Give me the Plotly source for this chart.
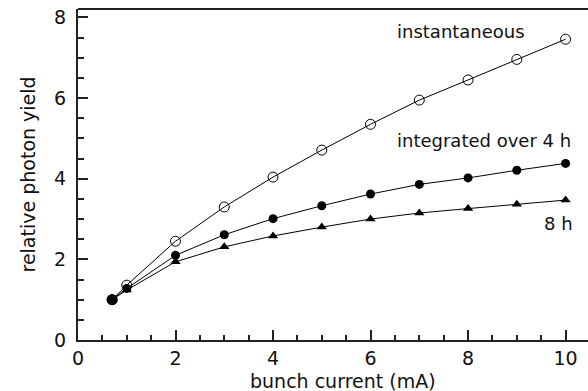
import plotly.graph_objects as go

current = [0.7, 1, 2, 3, 4, 5, 6, 7, 8, 9, 10]
instantaneous = [1.0, 1.36, 2.45, 3.30, 4.04, 4.71, 5.35, 5.95, 6.45, 6.96, 7.46]
integrated_4h = [1.0, 1.28, 2.10, 2.61, 3.01, 3.33, 3.62, 3.86, 4.02, 4.21, 4.38]
integrated_8h = [1.0, 1.24, 1.94, 2.31, 2.58, 2.80, 3.00, 3.15, 3.26, 3.37, 3.47]

x_ticks = [0, 2, 4, 6, 8, 10]
y_ticks = [0, 2, 4, 6, 8]

FONT = "DejaVu Sans"
INK = "#111"

fig = go.Figure()
fig.add_trace(go.Scatter(x=current, y=instantaneous, mode="lines+markers",
                         line=dict(color="black", width=1),
                         marker=dict(symbol="circle-open", size=10, color="black", line=dict(width=1))))
fig.add_trace(go.Scatter(x=current, y=integrated_4h, mode="lines+markers",
                         line=dict(color="black", width=1),
                         marker=dict(symbol="circle", size=9, color="black")))
fig.add_trace(go.Scatter(x=current, y=integrated_8h, mode="lines+markers",
                         line=dict(color="black", width=1),
                         marker=dict(symbol="triangle-up", size=9, color="black")))
# overlapped first point drawn as a larger filled dot
fig.add_trace(go.Scatter(x=current[:1], y=integrated_4h[:1], mode="markers",
                         marker=dict(symbol="circle", size=11, color="black")))

fig.add_annotation(x=6.5, y=7.64, text="instantaneous", showarrow=False, xanchor="left",
                   font=dict(family=FONT, size=18, color=INK))
fig.add_annotation(x=6.5, y=4.96, text="integrated over 4 h", showarrow=False, xanchor="left",
                   font=dict(family=FONT, size=18, color=INK))
fig.add_annotation(x=10.2, y=2.88, text="8 h", showarrow=False, xanchor="right",
                   font=dict(family=FONT, size=18, color=INK))

# axis titles
fig.add_annotation(xref="paper", yref="paper", x=0.52, y=-0.124, text="bunch current (mA)",
                   showarrow=False, xanchor="center", yanchor="middle",
                   font=dict(family=FONT, size=19, color=INK))
fig.add_annotation(xref="paper", yref="paper", x=-0.1, y=0.5, text="relative photon yield",
                   showarrow=False, xanchor="center", yanchor="middle", textangle=-90,
                   font=dict(family=FONT, size=19, color=INK))

# top frame line (the right edge lies outside the picture)
fig.add_shape(type="line", xref="paper", yref="paper", x0=0, x1=1, y0=1, y1=1,
              line=dict(color="#222", width=2))

fig.update_layout(
    width=588, height=391,
    margin=dict(l=78, r=0, t=9, b=51),
    paper_bgcolor="white", plot_bgcolor="white",
    showlegend=False,
    font=dict(family=FONT, size=19, color=INK),
    xaxis=dict(range=[0, 10.46], tickvals=x_ticks, ticks="inside", ticklen=10, tickwidth=1.5,
               tickcolor="#222", showline=True, linecolor="#222", linewidth=2,
               showgrid=False, zeroline=False,
               minor=dict(dtick=0.5, ticks="inside", ticklen=5, tickwidth=1.5, tickcolor="#222"),
               tickfont=dict(size=19)),
    yaxis=dict(range=[0, 8.21], tickvals=y_ticks, ticks="inside", ticklen=10, tickwidth=1.5,
               tickcolor="#222", showline=True, linecolor="#222", linewidth=2,
               showgrid=False, zeroline=False, ticklabelstandoff=6,
               minor=dict(dtick=0.5, ticks="inside", ticklen=6, tickwidth=1.5, tickcolor="#222"),
               tickfont=dict(size=19)),
)

fig.write_html("out.html")
